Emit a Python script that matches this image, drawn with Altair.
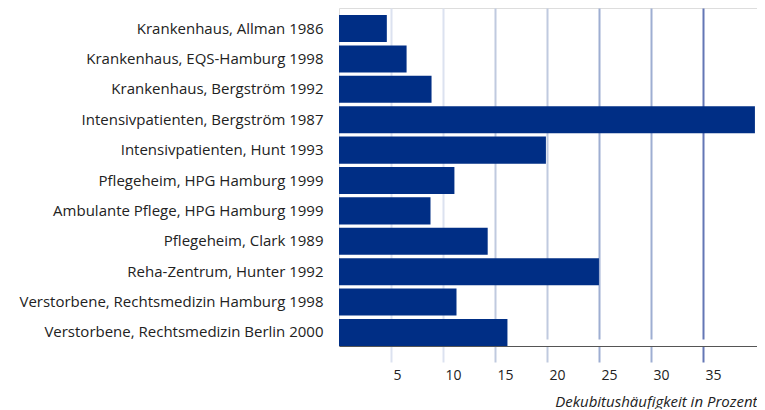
import altair as alt
import pandas as pd

categories = [
    "Krankenhaus, Allman 1986",
    "Krankenhaus, EQS-Hamburg 1998",
    "Krankenhaus, Bergström 1992",
    "Intensivpatienten, Bergström 1987",
    "Intensivpatienten, Hunt 1993",
    "Pflegeheim, HPG Hamburg 1999",
    "Ambulante Pflege, HPG Hamburg 1999",
    "Pflegeheim, Clark 1989",
    "Reha-Zentrum, Hunter 1992",
    "Verstorbene, Rechtsmedizin Hamburg 1998",
    "Verstorbene, Rechtsmedizin Berlin 2000",
]
values = [4.6, 6.5, 8.9, 40.0, 19.9, 11.1, 8.8, 14.3, 25.0, 11.3, 16.2]
tick_values = [5, 10, 15, 20, 25, 30, 35]
x_title = "Dekubitushäufigkeit in Prozent"

df = pd.DataFrame({"kategorie": categories, "wert": values})

FONT = "Open Sans"
BAR = "#002e85"

grid_color = {
    "condition": [
        {"test": "datum.value <= 10", "value": "#dce2f0"},
        {"test": "datum.value <= 20", "value": "#c0cadf"},
        {"test": "datum.value <= 30", "value": "#9eaed2"},
    ],
    "value": "#6477b5",
}

chart = (
    alt.Chart(df)
    .mark_bar(color=BAR)
    .encode(
        x=alt.X(
            "wert:Q",
            scale=alt.Scale(domain=[0, 40.2], nice=False, zero=True),
            axis=alt.Axis(
                values=tick_values,
                title=x_title,
                titleFont=FONT,
                titleFontStyle="italic",
                titleFontWeight="normal",
                titleFontSize=15,
                titleColor="#222222",
                titleAnchor="end",
                titlePadding=12,
                labelFont=FONT,
                labelFontSize=14,
                labelColor="#222222",
                labelAlign="left",
                labelOffset=2,
                labelPadding=6,
                grid=True,
                gridColor=grid_color,
                gridWidth=2,
                tickColor=grid_color,
                tickWidth=2,
                tickSize=16,
                domainColor="#555555",
                domainWidth=1.2,
            ),
        ),
        y=alt.Y(
            "kategorie:N",
            sort=categories,
            scale=alt.Scale(range=[7, 338], paddingInner=0.11, paddingOuter=0),
            axis=alt.Axis(
                title=None,
                labelFont=FONT,
                labelFontSize=15,
                labelColor="#222222",
                labelPadding=16,
                labelLimit=400,
                ticks=False,
                domain=False,
                grid=False,
                minExtent=331,
                maxExtent=331,
            ),
        ),
    )
    .properties(width=418, height=338)
    .configure_view(stroke=None)
    .configure(padding={"left": 0, "top": 0, "right": 0, "bottom": 0})
)

chart.save("out.html", embed_options={"renderer": "svg", "actions": False})
